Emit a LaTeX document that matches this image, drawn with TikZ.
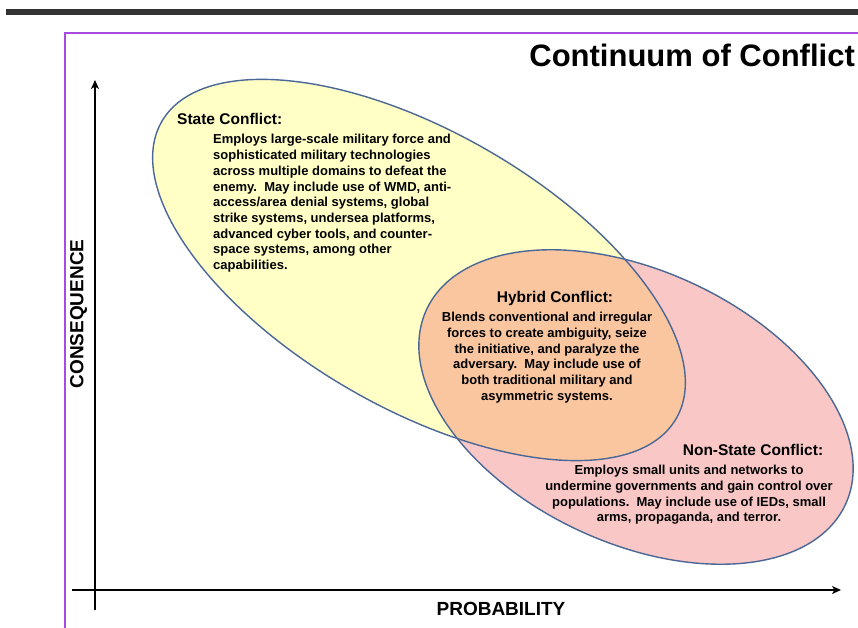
\documentclass[tikz,border=0pt]{standalone}
\usepackage{fontspec}
\setmainfont{Liberation Sans}
\usetikzlibrary{arrows.meta}
\definecolor{barcol}{HTML}{333333}
\definecolor{framecol}{HTML}{A64AE0}
\definecolor{edgecol}{HTML}{4A6796}
\definecolor{yellowfill}{HTML}{FFFFC6}
\definecolor{pinkfill}{HTML}{F9C8C6}
\definecolor{orangefill}{HTML}{FAC6A0}
\tikzset{
  blob/.style={draw=edgecol, line width=1.4pt},
  heading/.style={font=\bfseries\fontsize{15.5}{18}\selectfont, inner sep=0pt},
  body/.style={font=\bfseries\fontsize{13}{15.7}\selectfont, inner sep=0pt},
  axislabel/.style={font=\bfseries\fontsize{19}{22}\selectfont, inner sep=0pt},
  axis/.style={line width=1.8pt, -{Stealth[length=9pt,width=8pt,inset=2.5pt]}},
  stateshape/.style={rotate around={-30:(419,270)}},
  nonstateshape/.style={rotate around={-25:(636,407)}}
}
\begin{document}
\begin{tikzpicture}[x=1pt,y=-1pt]
\useasboundingbox (0,0) rectangle (858,628);
\fill[white] (0,0) rectangle (858,628);
% top bar
\fill[barcol] (6,9) rectangle (858,15.5);
% frame
\draw[framecol, line width=2pt] (65,628.5) -- (65,33) -- (860,33);
% title
\node[anchor=base east, font=\bfseries\fontsize{31}{36}\selectfont, inner sep=0pt] (title) at (855,67) {Continuum of Conflict};
% ellipse fills
\fill[yellowfill, stateshape] (419,270) ellipse [x radius=297pt, y radius=138pt];
\fill[pinkfill, nonstateshape] (636,407) ellipse [x radius=231pt, y radius=136pt];
\begin{scope}
  \clip[stateshape] (419,270) ellipse [x radius=297pt, y radius=138pt];
  \fill[orangefill, nonstateshape] (636,407) ellipse [x radius=231pt, y radius=136pt];
\end{scope}
% ellipse outlines
\draw[blob, stateshape] (419,270) ellipse [x radius=297pt, y radius=138pt];
\draw[blob, nonstateshape] (636,407) ellipse [x radius=231pt, y radius=136pt];
% texts
\node[heading, anchor=base west] (stateh) at (177,124.5) {State Conflict:};
\node[body, anchor=north west, align=left] (stateb) at (213,134.3) {Employs large-scale military force and\\
sophisticated military technologies\\
across multiple domains to defeat the\\
enemy.\ \ May include use of WMD, anti-\\
access/area denial systems, global\\
strike systems, undersea platforms,\\
advanced cyber tools, and counter-\\
space systems, among other\\
capabilities.};
\node[heading, anchor=base] (hybh) at (555,302.2) {Hybrid Conflict:};
\node[body, anchor=north, align=center] (hybb) at (547,312) {Blends conventional and irregular\\
forces to create ambiguity, seize\\
the initiative, and paralyze the\\
adversary.\ \ May include use of\\
both traditional military and\\
asymmetric systems.};
\node[heading, anchor=base] (nsh) at (753,455.5) {Non-State Conflict:};
\node[body, anchor=north, align=center] (nsb) at (689,465) {Employs small units and networks to\\
undermine governments and gain control over\\
populations.\ \ May include use of IEDs, small\\
arms, propaganda, and terror.};
% axes
\coordinate (ybot) at (95,610);
\coordinate (ytop) at (95,80);
\coordinate (xleft) at (72,590);
\coordinate (xright) at (841,590);
\draw[axis] (ybot) -- (ytop);
\draw[axis] (xleft) -- (xright);
\node[axislabel, anchor=base] (prob) at (501,615) {PROBABILITY};
\node[axislabel, rotate=90] (cons) at (78.5,314) {CONSEQUENCE};
\end{tikzpicture}
\end{document}
